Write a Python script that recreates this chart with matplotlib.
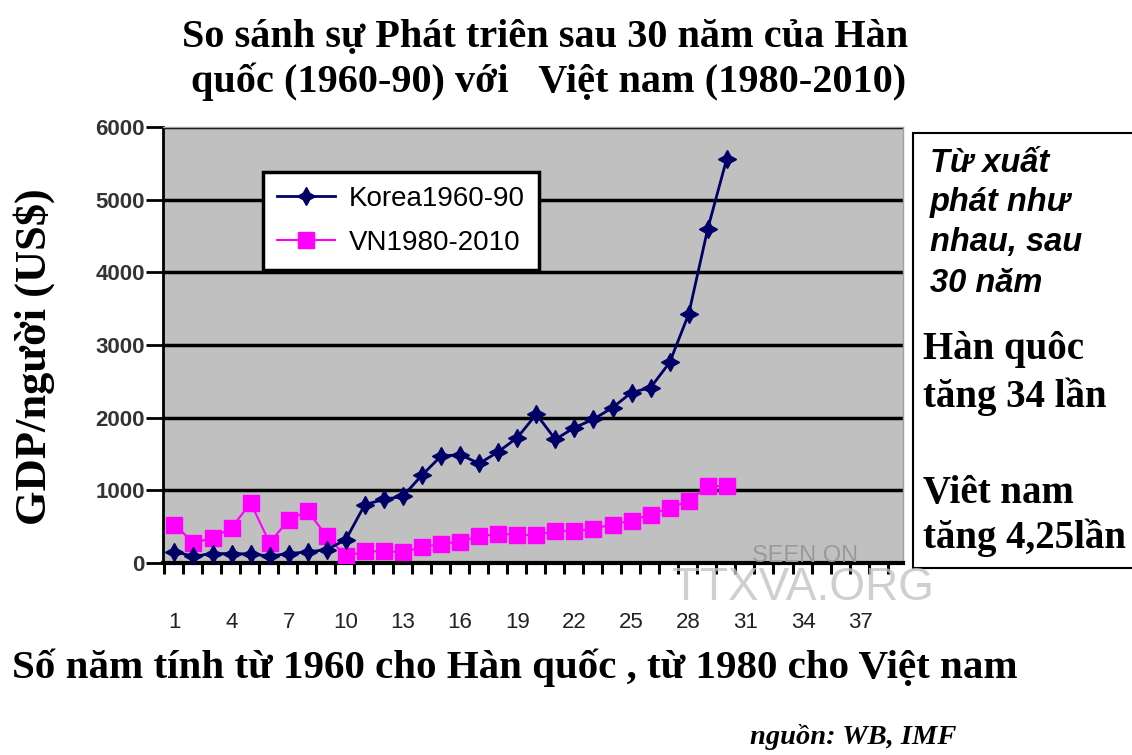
import numpy as np
import matplotlib
matplotlib.use("Agg")
import matplotlib.pyplot as plt
from matplotlib.patches import Rectangle

## DATA ##
years = np.arange(1, 31)
korea = [155, 92, 130, 129, 125, 95, 130, 152, 184, 322,
         805, 874, 920, 1210, 1472, 1490, 1370, 1530, 1725, 2047,
         1702, 1863, 1978, 2139, 2346, 2415, 2760, 3427, 4600, 5566]
vn = [529, 276, 345, 483, 828, 276, 598, 713, 368, 92,
      161, 161, 150, 220, 260, 295, 368, 400, 391, 382,
      446, 437, 474, 529, 584, 667, 759, 851, 1058, 1058]
x_ticks = list(range(1, 38, 3))
y_ticks = list(range(0, 6001, 1000))
series_names = ["Korea1960-90", "VN1980-2010"]

SERIF = ["Liberation Serif", "DejaVu Serif"]
SANS = ["Liberation Sans", "DejaVu Sans"]

W, H = 1132, 755
fig = plt.figure(figsize=(W / 100, H / 100), dpi=100)
fig.patch.set_facecolor("white")

def px(x, y):
    return x / W, 1 - y / H

ax = fig.add_axes([163 / W, 192 / H, 740 / W, 436 / H])
ax.set_facecolor("#c0c0c0")

ax.plot(years, korea, color="#000066", lw=2, marker=(4, 1, 0), ms=13,
        label=series_names[0], zorder=4)
ax.plot(years, vn, color="#ff00ff", lw=1.5, marker="s", ms=11,
        label=series_names[1], zorder=3)

ax.set_xlim(0.4, 39.25)
ax.set_ylim(0, 6000)
ax.set_yticks(y_ticks)
ax.set_yticklabels([str(v) for v in y_ticks], family=SANS, fontsize=16,
                   fontweight="bold", color="#333333")
ax.set_xticks(x_ticks)
ax.set_xticklabels([str(v) for v in x_ticks], family=SANS, fontsize=16,
                   color="#222222")
ax.set_xticks(np.arange(0.45, 39.3, 1), minor=True)
ax.tick_params(axis="x", which="major", length=0, pad=35)
ax.tick_params(axis="x", which="minor", length=8, width=2.2, direction="out",
               color="black")
ax.tick_params(axis="y", length=12, width=2, direction="out", color="black",
               pad=1)

ax.grid(axis="y", color="black", lw=2.5)
ax.set_axisbelow(True)
for s in ["top", "right"]:
    ax.spines[s].set_color("#a0a0a0")
    ax.spines[s].set_linewidth(1)
ax.spines["left"].set_linewidth(2)
ax.spines["bottom"].set_linewidth(3)

leg = ax.legend(loc="upper left", bbox_to_anchor=(0.135, 0.897),
                fancybox=False, framealpha=1, edgecolor="black",
                prop={"family": SANS, "size": 20}, handlelength=2.1,
                handletextpad=0.5, labelspacing=0.65, borderpad=0.5,
                borderaxespad=0)
leg.get_frame().set_linewidth(2.5)
leg.set_zorder(5)

# titles and labels
fig.text(*px(545, 38), "So sánh sự Phát triên sau 30 năm của Hàn",
         family=SERIF, fontweight="bold", fontsize=29, ha="center", va="center")
fig.text(*px(549, 82), "quốc (1960-90) với   Việt nam (1980-2010)",
         family=SERIF, fontweight="bold", fontsize=29, ha="center", va="center")
fig.text(*px(34, 357), "GDP/người (US$)", family=SERIF, fontweight="bold",
         fontsize=32, rotation=90, ha="center", va="center")
fig.text(*px(12, 668), "Số năm tính từ 1960 cho Hàn quốc , từ 1980 cho Việt nam",
         family=SERIF, fontweight="bold", fontsize=29.5, ha="left", va="center")
fig.text(*px(750, 737), "nguồn: WB, IMF", family=SERIF, fontweight="bold",
         style="italic", fontsize=20.5, ha="left", va="center")

# watermark
fig.text(*px(805, 562), "SEEN ON", family=SANS, fontsize=17, color="#999999",
         ha="center", va="baseline")
fig.text(*px(803, 566), "TTXVA.ORG", family=SANS, fontsize=33, color="#c4c4c4",
         ha="center", va="top", alpha=0.8)

# right note box
fig.patches.append(Rectangle(px(913, 568), (1140 - 913) / W, (568 - 133) / H,
                             transform=fig.transFigure, facecolor="white",
                             edgecolor="black", lw=1.5, zorder=1))
note = ["Từ xuất", "phát như", "nhau, sau", "30 năm"]
for i, line in enumerate(note):
    fig.text(*px(930, 163 + i * 40), line, family=SANS, fontweight="bold",
             style="italic", fontsize=23.5, ha="left", va="center", zorder=2)
for y, line in [(350, "Hàn quôc"), (397, "tăng 34 lần"),
                (493, "Viêt nam"), (538, "tăng 4,25lần")]:
    fig.text(*px(923, y), line, family=SERIF, fontweight="bold", fontsize=28,
             ha="left", va="center", zorder=2)

fig.savefig("out.png", dpi=100)
